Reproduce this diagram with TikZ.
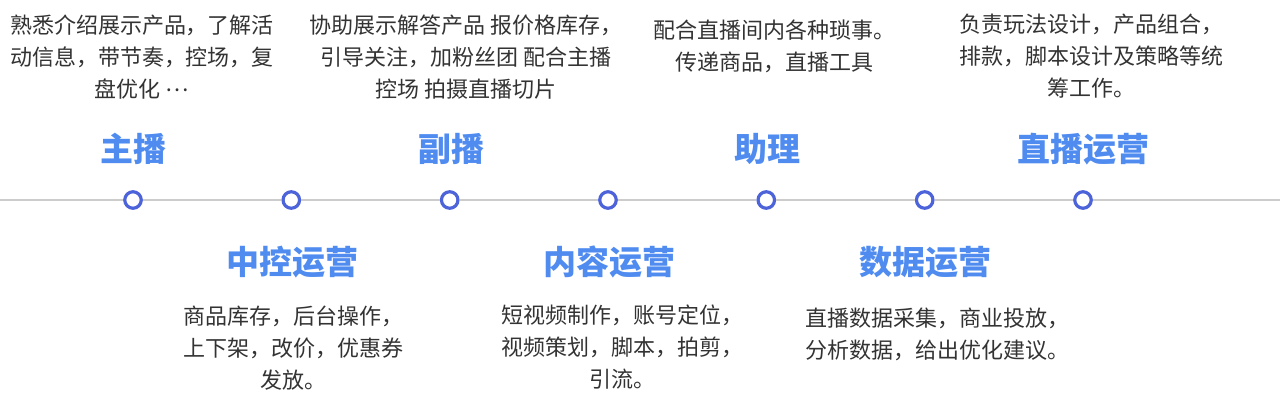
\documentclass[tikz,border=0pt]{standalone}
\usepackage{fontspec}
\newfontfamily\cjk{Noto Sans CJK SC}
\definecolor{roleblue}{RGB}{80,140,240}
\definecolor{dotblue}{RGB}{76,99,217}
\definecolor{dutygray}{RGB}{51,51,51}
\definecolor{axisgray}{RGB}{204,204,204}
\tikzset{
  dot/.style={circle,draw=dotblue,fill=white,line width=3.2pt,minimum size=16.5pt,inner sep=0pt},
  role/.style={text=roleblue,inner sep=0pt,font=\cjk\bfseries\fontsize{33}{36}\selectfont},
  duty/.style={text=dutygray,align=center,inner sep=0pt,font=\cjk\fontsize{22}{32}\selectfont}
}
\begin{document}
\begin{tikzpicture}[x=1pt,y=-1pt]
      \useasboundingbox (0,0) rectangle (1280,405);
      % timeline points
      \coordinate (l) at (0,200);
      \coordinate (r) at (1280,200);
      \draw
        (133,200) node[dot] (p1){}
        (291.3,200) node[dot] (p2){}
        (449.7,200) node[dot] (p3){}
        (608,200) node[dot] (p4){}
        (766.3,200) node[dot] (p5){}
        (924.7,200) node[dot] (p6){}
        (1083,200) node[dot] (p7){};
      \begin{scope}[axisgray,line width=2.7pt]
        \draw (l) to (p1);
        \draw (p1) to (p2);
        \draw (p2) to (p3);
        \draw (p3) to (p4);
        \draw (p4) to (p5);
        \draw (p5) to (p6);
        \draw (p6) to (p7);
        \draw (p7) to (r);
      \end{scope}
      % roles
      \node[role] (t1) at (133,149) {主播};
      \node[role] (t2) at (292,262) {中控运营};
      \node[role] (t3) at (451,149) {副播};
      \node[role] (t4) at (609,262) {内容运营};
      \node[role] (t5) at (767,149) {助理};
      \node[role] (t6) at (925,262) {数据运营};
      \node[role] (t7) at (1083,149) {直播运营};
      % duties
      \node[duty] (d1) at (142,57) {熟悉介绍展示产品，了解活\\动信息，带节奏，控场，复\\盘优化 \raisebox{0.27em}{⋯}};
      \node[duty] (d2) at (293,348) {商品库存，后台操作，\\上下架，改价，优惠券\\发放。};
      \node[duty] (d3) at (466,57) {协助展示解答产品 报价格库存，\\引导关注，加粉丝团 配合主播\\控场 拍摄直播切片};
      \node[duty] (d4) at (622,347.5) {短视频制作，账号定位，\\视频策划，脚本，拍剪，\\引流。};
      \node[duty] (d5) at (774,46.5) {配合直播间内各种琐事。\\传递商品，直播工具};
      \node[duty] (d6) at (937,334) {直播数据采集，商业投放，\\分析数据，给出优化建议。};
      \node[duty] (d7) at (1091,56) {负责玩法设计，产品组合，\\排款，脚本设计及策略等统\\筹工作。};
    \end{tikzpicture}
\end{document}
